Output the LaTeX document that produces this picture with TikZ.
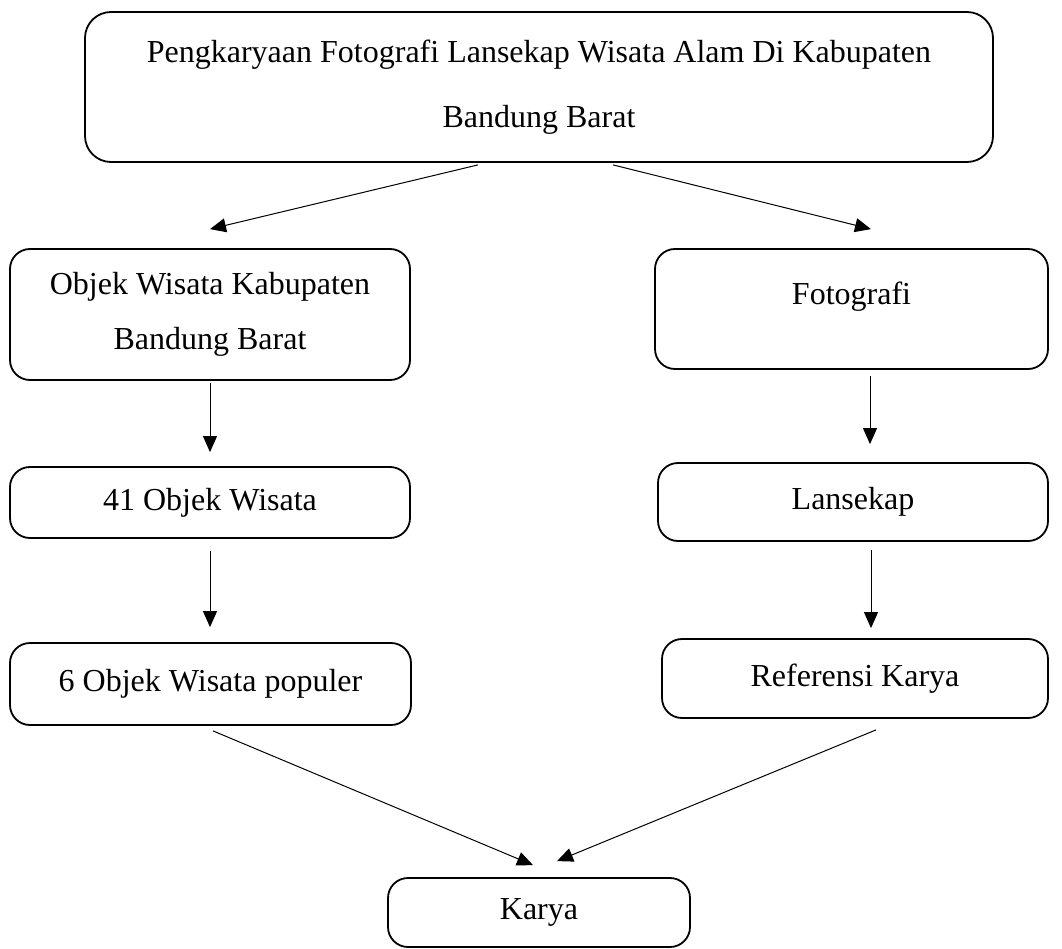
\documentclass[tikz,border=0pt]{standalone}
\usepackage{fontspec}
\setmainfont{Liberation Serif}
\usetikzlibrary{arrows.meta}

\tikzset{
  kotak/.style={draw, line width=1.8pt, rounded corners=20pt, inner sep=0pt,
    align=center, font=\fontsize{32}{42}\selectfont},
  panah/.style={->, line width=1pt}
}

\begin{document}
\begin{tikzpicture}[x=1pt, y=-1pt, >={Triangle[length=16pt,width=14pt]}]
    \useasboundingbox (0,0) rectangle (1062,949);
    % judul
    \node[kotak, minimum width=908pt, minimum height=150pt, rounded corners=26pt]
      (judul) at (539,87)
      {Pengkaryaan Fotografi Lansekap Wisata Alam Di Kabupaten\\[23pt] Bandung Barat};
    % kiri
    \node[kotak, minimum width=400pt, minimum height=131pt] (objek) at (210,314.5)
      {Objek Wisata Kabupaten\\[13pt] Bandung Barat};
    \node[kotak, minimum width=400pt, minimum height=71pt] (empatsatu) at (210,502.5)
      {41 Objek Wisata};
    \node[kotak, minimum width=401pt, minimum height=82pt] (enam) at (210.5,684)
      {6 Objek Wisata populer};
    % kanan
    \node[kotak, minimum width=393pt, minimum height=120pt] (foto) at (851.5,309)
      {Fotografi\\[-10pt] ~};
    \node[kotak, minimum width=390pt, minimum height=78pt] (lansekap) at (853,502)
      {Lansekap};
    \node[kotak, minimum width=386pt, minimum height=79pt] (referensi) at (855,678.5)
      {Referensi Karya};
    % hasil
    \node[kotak, minimum width=302pt, minimum height=69pt] (karya) at (539,912.5)
      {Karya};

    \draw[panah] ([xshift=-61pt,yshift=-2pt]judul.south)
      -- ([yshift=19pt]objek.north);
    \draw[panah] ([xshift=74pt,yshift=-2pt]judul.south)
      -- ([xshift=19.5pt,yshift=19pt]foto.north);
    \draw[panah] ([yshift=-2pt]objek.south)
      -- ([yshift=14pt]empatsatu.north);
    \draw[panah] ([yshift=-12pt]empatsatu.south)
      -- ([xshift=-0.5pt,yshift=15pt]enam.north);
    \draw[panah] ([xshift=18.5pt,yshift=-6pt]foto.south)
      -- ([xshift=17pt,yshift=18pt]lansekap.north);
    \draw[panah] ([xshift=18pt,yshift=-8pt]lansekap.south)
      -- ([xshift=16pt,yshift=10pt]referensi.north);
    \draw[panah] ([xshift=2.5pt,yshift=-5pt]enam.south)
      -- ([xshift=-6pt,yshift=12pt]karya.north);
    \draw[panah] ([xshift=21pt,yshift=-11pt]referensi.south)
      -- ([xshift=18pt,yshift=16pt]karya.north);
\end{tikzpicture}
\end{document}
